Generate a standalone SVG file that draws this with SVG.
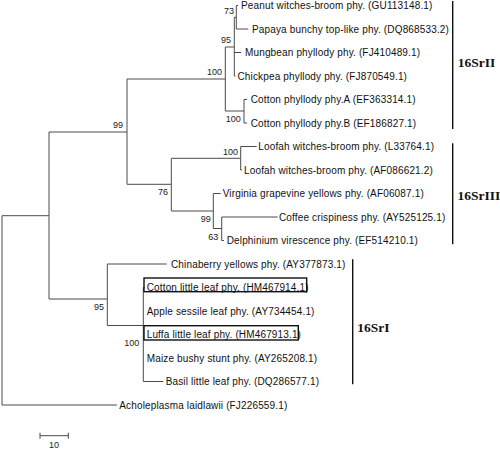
<svg xmlns="http://www.w3.org/2000/svg" width="500" height="449" viewBox="0 0 500 449">
<style>
.br{fill:none;stroke:#4a4a4a;stroke-width:1}
.bk{fill:none;stroke:#111;stroke-width:1.4}
.lb{font-family:"Liberation Sans",Arial,sans-serif;font-size:10px;letter-spacing:0.15px;fill:#111}
.bs{font-family:"Liberation Sans",Arial,sans-serif;font-size:9px;fill:#222;text-anchor:end}
.gr{font-family:"Liberation Serif","Times New Roman",serif;font-size:13.5px;font-weight:bold;fill:#111}
</style>
<rect width="500" height="449" fill="#fff"/>
<g id="connectors">
<path class="br" d="M2,215.7V405M2,215.7H49M2,405H117"/>
<path class="br" d="M49,132V299M49,132H127M49,299H107.3"/>
<path class="br" d="M127,79V184.3M127,79H225.3M127,184.3H171.3"/>
<path class="br" d="M225.3,47V111M225.3,47H234.3M225.3,111H244"/>
<path class="br" d="M234.3,17.25V76M234.3,17.25H236.3M234.3,52.5H241M234.3,76H235.5"/>
<path class="br" d="M236.3,5.5V29M236.3,5.5H238M236.3,29H248.3"/>
<path class="br" d="M244,99.5V123M244,99.5H247M244,123H247"/>
<path class="br" d="M171.3,158.3V211M171.3,158.3H240.7M171.3,211H213.3"/>
<path class="br" d="M240.7,146.5V170M240.7,146.5H256.7M240.7,170H242"/>
<path class="br" d="M213.3,193.5V228.5M213.3,193.5H220.7M213.3,228.5H221.7"/>
<path class="br" d="M221.7,217V240.5M221.7,217H277.7M221.7,240.5H224"/>
<path class="br" d="M107.3,264V325.5M107.3,264H166.7M107.3,325.5H143.3"/>
<path class="br" d="M143.3,287.5V381.5M143.3,381.5H163.3M143.3,287.5H144.5"/>
<path class="br" d="M40,435.7H68.3M40,432.7V438.7M68.3,432.7V438.7"/>
</g>
<g id="brackets">
<path class="bk" d="M452.7,1V129M452.7,143.3V244.3M352.7,259.3V384.3"/>
</g>
<g id="boxes">
<rect class="bk" x="144" y="278" width="162.7" height="13.7"/>
<rect class="bk" x="144" y="325.7" width="154.3" height="14.3"/>
</g>
<g id="n-peanut"><text class="lb" x="241" y="9.1">Peanut witches-broom phy. (GU113148.1)</text></g>
<g id="n-papaya"><text class="lb" x="252" y="32.6">Papaya bunchy top-like phy. (DQ868533.2)</text></g>
<g id="n-mungbean"><text class="lb" x="245" y="56.1">Mungbean phyllody phy. (FJ410489.1)</text></g>
<g id="n-chickpea"><text class="lb" x="237.5" y="79.6">Chickpea phyllody phy. (FJ870549.1)</text></g>
<g id="n-cottonA"><text class="lb" x="250.7" y="103.1">Cotton phyllody phy.A (EF363314.1)</text></g>
<g id="n-cottonB"><text class="lb" x="250.7" y="126.6">Cotton phyllody phy.B (EF186827.1)</text></g>
<g id="n-loofah1"><text class="lb" x="258.3" y="150.1">Loofah witches-broom phy. (L33764.1)</text></g>
<g id="n-loofah2"><text class="lb" x="244" y="173.6">Loofah witches-broom phy. (AF086621.2)</text></g>
<g id="n-virginia"><text class="lb" x="222.7" y="197.1">Virginia grapevine yellows phy. (AF06087.1)</text></g>
<g id="n-coffee"><text class="lb" x="279" y="220.6">Coffee crispiness phy. (AY525125.1)</text></g>
<g id="n-delph"><text class="lb" x="226.7" y="244.1">Delphinium virescence phy. (EF514210.1)</text></g>
<g id="n-chinaberry"><text class="lb" x="171" y="267.6">Chinaberry yellows phy. (AY377873.1)</text></g>
<g id="n-cottonlittle"><text class="lb" x="146.7" y="291.1">Cotton little leaf phy. (HM467914.1)</text></g>
<g id="n-apple"><text class="lb" x="146.7" y="314.6">Apple sessile leaf phy. (AY734454.1)</text></g>
<g id="n-luffa"><text class="lb" x="146.7" y="337.5">Luffa little leaf phy. (HM467913.1)</text></g>
<g id="n-maize"><text class="lb" x="146.7" y="361.6">Maize bushy stunt phy. (AY265208.1)</text></g>
<g id="n-basil"><text class="lb" x="165.7" y="385.1">Basil little leaf phy. (DQ286577.1)</text></g>
<g id="n-achole"><text class="lb" x="119.3" y="408.6">Acholeplasma laidlawii (FJ226559.1)</text></g>
<g id="bootstrap">
<text class="bs" x="234" y="14.2">73</text>
<text class="bs" x="231" y="43.2">95</text>
<text class="bs" x="222" y="75.2">100</text>
<text class="bs" x="240.7" y="122.2">100</text>
<text class="bs" x="123" y="128.2">99</text>
<text class="bs" x="238" y="154.9">100</text>
<text class="bs" x="168" y="195.2">76</text>
<text class="bs" x="210.7" y="222.2">99</text>
<text class="bs" x="218.3" y="239.9">63</text>
<text class="bs" x="104" y="310.2">95</text>
<text class="bs" x="139.3" y="345.5">100</text>
<text class="bs" x="59" y="447.5">10</text>
</g>
<g id="groups">
<text class="gr" x="457.7" y="66.5">16SrII</text>
<text class="gr" x="457.5" y="199.5">16SrIII</text>
<text class="gr" x="357.3" y="331.5">16SrI</text>
</g>
</svg>
